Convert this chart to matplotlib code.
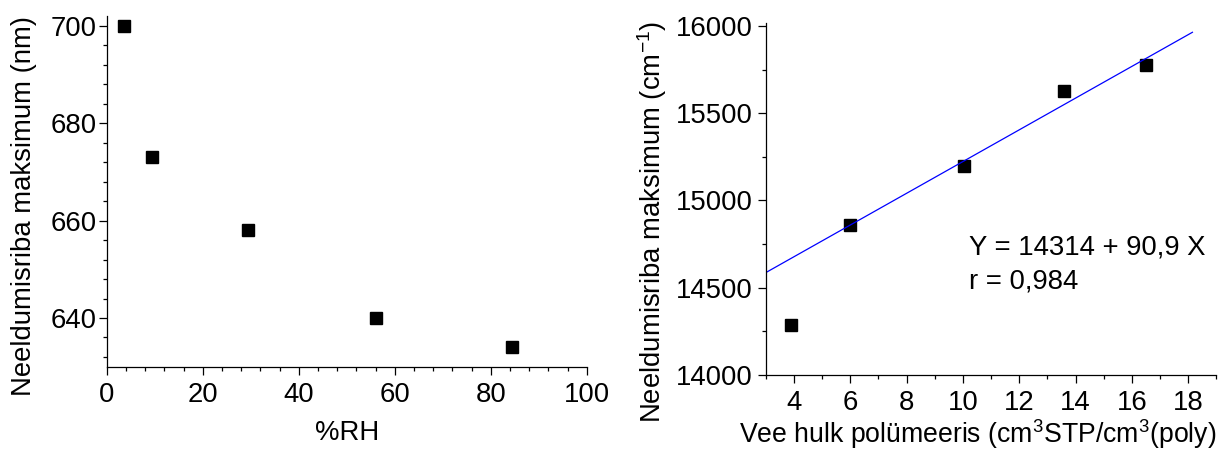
import numpy as np
import matplotlib
matplotlib.use("Agg")
import matplotlib.pyplot as plt
from matplotlib.ticker import MultipleLocator

plt.rcParams['font.family'] = ['Liberation Sans', 'DejaVu Sans']
plt.rcParams['mathtext.fontset'] = 'custom'
plt.rcParams['mathtext.rm'] = 'Liberation Sans'
plt.rcParams['mathtext.it'] = 'Liberation Sans:italic'
plt.rcParams['mathtext.bf'] = 'Liberation Sans:bold'

# Absorption band maximum vs relative humidity
rh = [3.5, 9.4, 29.4, 56.0, 84.5]
peak_nm = [700, 673, 658, 640, 634]

# Absorption band maximum (wavenumber) vs water content in polymer
water = [3.9, 6.0, 10.05, 13.6, 16.5]
peak_cm = [14285, 14858, 15200, 15628, 15776]

# Linear fit reported on the chart
fit_a = 14314
fit_b = 90.9
fit_r = 0.984
fit_x = [3.0, 18.15]

W, H = 1220, 454
fig = plt.figure(figsize=(W / 100, H / 100), dpi=100)

FS = 19.8


def style(ax):
    for s in ('top', 'right'):
        ax.spines[s].set_visible(False)
    for s in ('left', 'bottom'):
        ax.spines[s].set_linewidth(0.9)
    ax.tick_params(which='major', direction='out', length=5.5, width=0.9,
                   labelsize=FS)
    ax.tick_params(which='minor', direction='out', length=3, width=0.9)


# Left panel
ax1 = fig.add_axes([106.7 / W, 1 - 366.7 / H, 480 / W, (366.7 - 16) / H])
ax1.plot(rh, peak_nm, 's', color='black', markersize=8.6, clip_on=False)
ax1.set_xlim(0, 100)
ax1.set_ylim(630, 702)
ax1.xaxis.set_major_locator(MultipleLocator(20))
ax1.xaxis.set_minor_locator(MultipleLocator(4))
ax1.yaxis.set_major_locator(MultipleLocator(20))
ax1.yaxis.set_minor_locator(MultipleLocator(4))
style(ax1)
ax1.tick_params(axis='y', which='major', pad=2)
ax1.tick_params(axis='x', which='major', pad=5.5)
fig.text(24 / W, 1 - 206 / H, 'Neeldumisriba maksimum (nm)', rotation=90,
         ha='center', va='center', fontsize=FS)
fig.text(347 / W, 1 - 433 / H, '%RH', ha='center', va='center', fontsize=FS)

# Right panel
ax2 = fig.add_axes([765.8 / W, 1 - 375 / H, (16 * 28.16) / W, (375 - 23) / H])
ax2.plot(water, peak_cm, 's', color='black', markersize=8.6, clip_on=False)
fx = np.array(fit_x)
ax2.plot(fx, fit_a + fit_b * fx, color='#0000ff', linewidth=0.9)
ax2.set_xlim(3, 19)
ax2.set_ylim(14000, 16017)
ax2.xaxis.set_major_locator(MultipleLocator(2))
ax2.xaxis.set_minor_locator(MultipleLocator(1))
ax2.yaxis.set_major_locator(MultipleLocator(500))
ax2.yaxis.set_minor_locator(MultipleLocator(250))
style(ax2)
ax2.tick_params(axis='y', which='major', pad=4)
ax2.tick_params(axis='x', which='major', pad=5.5)
fig.text(652 / W, 1 - 222 / H, r'Neeldumisriba maksimum (cm$^{\mathrm{-1}}$)',
         rotation=90, ha='center', va='center', fontsize=FS)
fig.text(1216 / W, 3 / H,
         r'Vee hulk polümeeris (cm$^{\mathrm{3}}$STP/cm$^{\mathrm{3}}$(poly)',
         ha='right', va='bottom', fontsize=19.2)

eq = f'Y = {fit_a} + {fit_b:.1f} X'.replace('.', ',')
rr = f'r = {fit_r:.3f}'.replace('.', ',')
fig.text(969 / W, 1 - 248 / H, eq, ha='left', va='center', fontsize=FS)
fig.text(969 / W, 1 - 282 / H, rr, ha='left', va='center', fontsize=FS)

fig.savefig('out.png', dpi=100)
